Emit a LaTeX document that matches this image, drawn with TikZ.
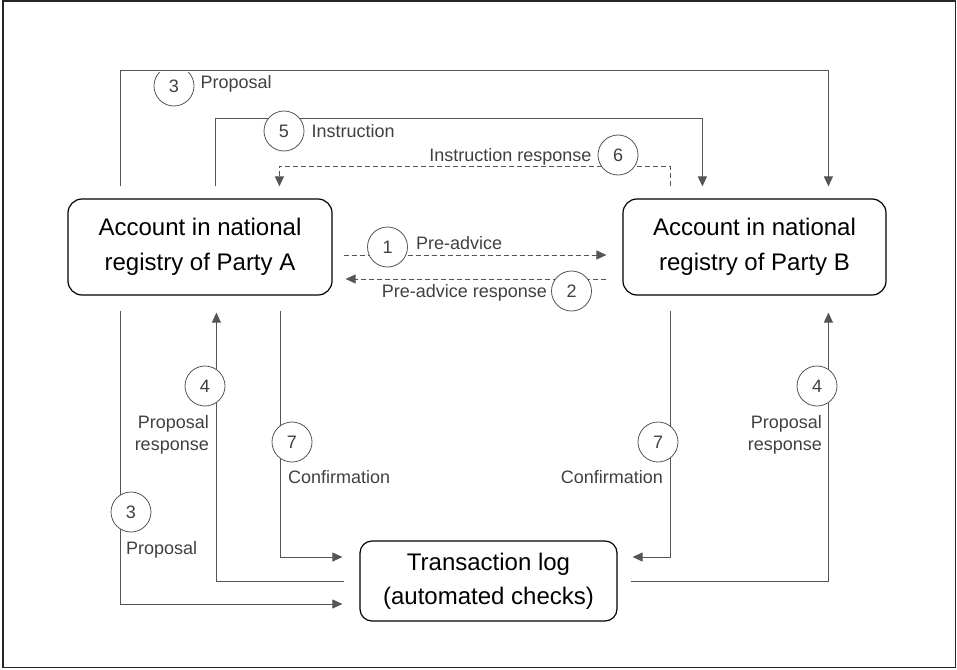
\documentclass[tikz,border=0pt]{standalone}
\usepackage{fontspec}
\setmainfont{Liberation Sans}
\usetikzlibrary{arrows.meta,positioning}
\definecolor{linegray}{HTML}{555555}
\definecolor{textgray}{HTML}{404040}

\begin{document}
\begin{tikzpicture}[x=1pt,y=-1pt]
        \tikzstyle{account} = [rectangle, rounded corners=14pt, minimum width=264pt, minimum height=96pt, align=center, draw=black, line width=1.2pt, font=\fontsize{24}{35}\selectfont]
        \tikzstyle{numcircle} = [circle, draw=linegray, line width=0.8pt, fill=white, minimum size=40pt, inner sep=0pt, text=textgray, font=\fontsize{18}{22}\selectfont]
        \tikzstyle{flowtext} = [inner sep=0pt, text=textgray, font=\fontsize{18}{22}\selectfont]
        \tikzstyle{arrow} = [draw=linegray, line width=0.9pt, -{Triangle[length=10pt,width=9pt]}]
        \tikzstyle{dasharrow} = [arrow, dash pattern=on 5pt off 3pt]

        \useasboundingbox (0,0) rectangle (957,669);
        \draw [line width=1.4pt, black!85] (3,1.2) rectangle (955.6,667.2);

        \node (partyA) [account] at (200,247) {Account in national\\registry of Party A};
        \node (partyB) [account, minimum width=263pt] at (754.5,247) {Account in national\\registry of Party B};
        \node (txlog) [account, rounded corners=12pt, minimum width=257pt, minimum height=80pt, font=\fontsize{24}{34}\selectfont] at (488.5,581) {Transaction log\\(automated checks)};

        % between the two registries
        \draw [dasharrow, shorten <=11pt, shorten >=16pt] ([yshift=-8pt]partyA.east) -- ([yshift=-8pt]partyB.west);
        \draw [dasharrow, shorten <=16pt, shorten >=13pt] ([yshift=-32pt]partyB.west) -- ([yshift=-32pt]partyA.east);
        \draw [arrow, shorten <=12pt, shorten >=12pt] ([xshift=53pt]partyA.north west) -- ++(0,-128) -| ([xshift=206pt]partyB.north west);
        \draw [arrow, shorten <=12pt, shorten >=12pt] ([xshift=148pt]partyA.north west) -- ++(0,-80) -| ([xshift=80pt]partyB.north west);
        \draw [dasharrow, shorten <=12pt, shorten >=12pt] ([xshift=48pt]partyB.north west) -- ++(0,-32) -| ([xshift=212pt]partyA.north west);

        % to and from the transaction log
        \draw [arrow, shorten <=15pt, shorten >=17pt] ([xshift=53pt]partyA.south west) |- ([yshift=-23pt]txlog.west);
        \draw [arrow, shorten <=15pt, shorten >=17pt] (txlog.west) -| ([xshift=149pt]partyA.south west);
        \draw [arrow, shorten <=15pt, shorten >=17pt] ([xshift=213pt]partyA.south west) |- ([yshift=24pt]txlog.west);
        \draw [arrow, shorten <=15pt, shorten >=15pt] ([xshift=48pt]partyB.south west) |- ([yshift=24pt]txlog.east);
        \draw [arrow, shorten <=13pt, shorten >=17pt] (txlog.east) -| ([xshift=206pt]partyB.south west);

        % the top circle sits just under its line
        \begin{scope}
          \clip (0,72) rectangle (957,669);
          \node (n3top) [numcircle] at (174,86) {3};
        \end{scope}
        \node (n5) [numcircle] at (284,131) {5};
        \node (n6) [numcircle] at (618,155) {6};
        \node (n1) [numcircle] at (387.5,247) {1};
        \node (n2) [numcircle] at (571.5,291) {2};
        \node (n3bot) [numcircle] at (131,512) {3};
        \node (n4a) [numcircle] at (205,386) {4};
        \node (n7a) [numcircle] at (292,442) {7};
        \node (n7b) [numcircle] at (658,442) {7};
        \node (n4b) [numcircle] at (817,386) {4};

        \node (t3top) [flowtext, right=6pt of n3top, yshift=2pt] {Proposal};
        \node (t5) [flowtext, right=7pt of n5] {Instruction};
        \node (t6) [flowtext, left=6pt of n6, yshift=-2pt] {Instruction response};
        \node (t1) [flowtext, right=8pt of n1, yshift=4pt] {Pre-advice};
        \node (t2) [flowtext, left=4pt of n2, yshift=-2pt] {Pre-advice response};
        \node (t3bot) [flowtext, below right=9pt and -5pt of n3bot.south] {Proposal};
        \node (t4a) [flowtext, align=right, below left=9pt and -4pt of n4a.south] {Proposal\\response};
        \node (t7a) [flowtext, below right=8pt and -4pt of n7a.south] {Confirmation};
        \node (t7b) [flowtext, below left=8pt and -5pt of n7b.south] {Confirmation};
        \node (t4b) [flowtext, align=right, below left=9pt and -5pt of n4b.south] {Proposal\\response};
\end{tikzpicture}
\end{document}
